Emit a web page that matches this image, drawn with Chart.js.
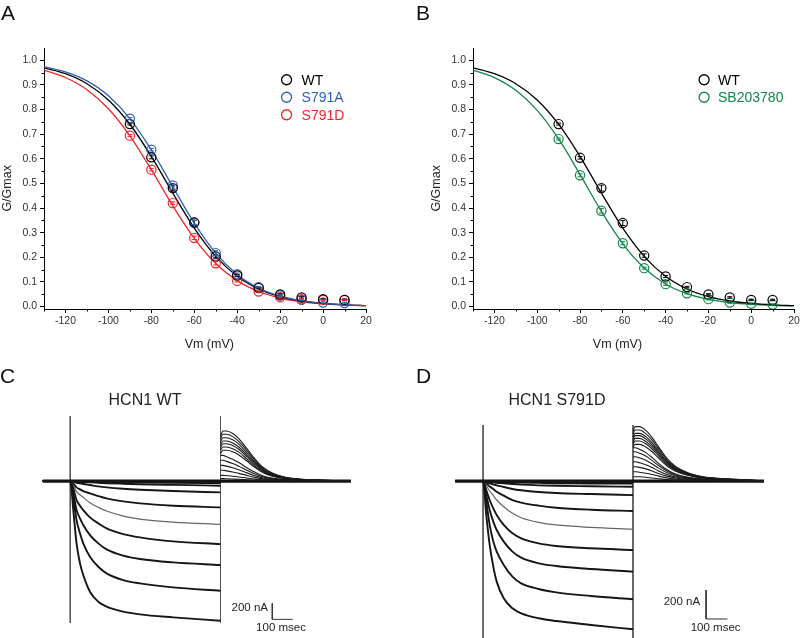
<!DOCTYPE html>
<html><head><meta charset="utf-8">
<script src="https://cdn.jsdelivr.net/npm/chart.js@4"></script>
<style>
html,body{margin:0;padding:0;background:#fff;}
#wrap{position:relative;width:800px;height:638px;overflow:hidden;font-family:'Liberation Sans',Arial,sans-serif;}
canvas{position:absolute;}
.lbl{position:absolute;font-size:21px;line-height:21px;color:#111;}
</style></head><body>
<div id="wrap">
<canvas id="cA" width="400" height="356" style="left:0;top:0"></canvas>
<canvas id="cB" width="400" height="356" style="left:400px;top:0"></canvas>
<canvas id="cC" width="400" height="258" style="left:0;top:380px"></canvas>
<canvas id="cD" width="400" height="258" style="left:400px;top:380px"></canvas>
<div class="lbl" style="left:1px;top:2px">A</div>
<div class="lbl" style="left:416px;top:2px">B</div>
<div class="lbl" style="left:0px;top:365px">C</div>
<div class="lbl" style="left:416px;top:365px">D</div>
</div>
<script>
// ---------- Panel A / B data ----------
const voltages = [-90,-80,-70,-60,-50,-40,-30,-20,-10,0,10];
const wtA    = [0.741,0.606,0.481,0.341,0.203,0.126,0.075,0.049,0.037,0.030,0.027];
const s791a  = [0.763,0.637,0.492,0.341,0.217,0.131,0.079,0.045,0.027,0.016,0.014];
const s791d  = [0.694,0.556,0.420,0.279,0.176,0.104,0.061,0.038,0.030,0.027,0.027];
const wtB    = [0.741,0.604,0.481,0.339,0.207,0.122,0.079,0.049,0.037,0.027,0.027];
const sb203780 = [0.680,0.533,0.389,0.257,0.156,0.091,0.054,0.030,0.016,0.011,0.008];
const wtAErr   = [0.004,0.006,0.012,0.010,0.006,0.004,0.003,0.003,0.003,0.003,0.003];
const s791aErr = [0.004,0.005,0.006,0.008,0.010,0.005,0.003,0.003,0.003,0.003,0.003];
const s791dErr = [0.004,0.005,0.005,0.007,0.007,0.004,0.003,0.003,0.003,0.003,0.003];
const wtBErr   = [0.004,0.005,0.012,0.010,0.007,0.004,0.003,0.003,0.003,0.003,0.003];
const sbErr    = [0.004,0.006,0.009,0.006,0.004,0.005,0.003,0.003,0.003,0.003,0.003];
// fitted Boltzmann curves
const fitV     = [-130,-120,-110,-100,-90,-80,-70,-60,-50,-40,-30,-20,-10,0,10,20];
const wtFit    = [0.9695,0.9455,0.9049,0.839,0.7404,0.6096,0.4609,0.3189,0.204,0.123,0.0713,0.0404,0.0225,0.0125,0.0069,0.0038];
const s791aFit = [0.9741,0.9531,0.9167,0.8563,0.7635,0.6360,0.4862,0.3388,0.2172,0.1306,0.0752,0.0422,0.0233,0.0127,0.0069,0.0038];
const s791dFit = [0.9602,0.9303,0.8808,0.8035,0.6935,0.5560,0.4093,0.2772,0.1750,0.1051,0.0610,0.0347,0.0195,0.0109,0.0061,0.0034];
const sbFit    = [0.9607,0.9299,0.8782,0.7967,0.6805,0.5365,0.3862,0.2548,0.1567,0.0917,0.0520,0.0290,0.0160,0.0087,0.0048,0.0026];
const xTicks = [-120,-100,-80,-60,-40,-20,0,20];
const xMinor = [-130,-110,-90,-70,-50,-30,-10,10];
const yTicks = [0,0.1,0.2,0.3,0.4,0.5,0.6,0.7,0.8,0.9,1.0];
const yMinor = [0.05,0.15,0.25,0.35,0.45,0.55,0.65,0.75,0.85,0.95];

// ---------- Panel C (HCN1 WT) traces : time ms, current nA ----------
const cStepT = [0,15,31,48,64,97,138,179,261,343,507,740];
const cTailT = [740,752,770,800,830,870,910,950,1000,1060,1130,1220,1382];
const cHoldT = [-135,1382];
const cSteps = [
 [0,-363,-779,-1029,-1175,-1383,-1508,-1571,-1633,-1667,-1704,-1746],
 [0,-217,-488,-654,-779,-946,-1071,-1154,-1238,-1279,-1329,-1371],
 [0,-154,-363,-467,-550,-675,-779,-854,-933,-975,-1017,-1050],
 [0,-92,-238,-308,-363,-454,-529,-592,-663,-704,-754,-788],
 [0,-50,-133,-171,-204,-271,-329,-375,-438,-475,-513,-542],
 [0,-29,-79,-104,-125,-154,-188,-217,-254,-279,-308,-329],
 [0,-8,-21,-29,-37,-50,-67,-79,-96,-108,-125,-142],
 [0,-3,-6,-9,-12,-17,-22,-27,-34,-40,-48,-58],
 [0,-1,-3,-4,-5,-7,-9,-11,-14,-17,-21,-25],
 [0,0,-1,-1,-2,-3,-4,-5,-6,-7,-9,-11],
 [0,0,0,0,0,-1,-1,-1,-2,-2,-3,-4],
 [0,0,0,0,0,0,0,0,-1,-1,-1,-1],
 [0,0,0,0,0,0,0,0,0,0,0,0]
];
const cTails = [
 [562,625,625,594,531,406,275,169,94,47,25,12,0],
 [526,584,584,555,496,380,257,158,88,44,23,12,0],
 [488,542,542,515,461,352,238,146,81,41,22,11,0],
 [450,500,500,475,425,325,220,135,75,38,20,10,0],
 [420,467,467,444,397,304,205,126,70,35,19,9,0],
 [383,425,425,404,361,276,187,115,64,32,17,9,0],
 [346,384,384,365,326,250,169,104,58,29,15,8,0],
 [321,321,305,273,231,167,109,64,35,18,10,5,0],
 [259,259,246,220,186,135,88,52,28,14,8,4,0],
 [196,196,186,167,141,102,67,39,22,11,6,3,0],
 [134,134,127,114,96,70,46,27,15,7,4,2,0],
 [71,71,67,60,51,37,24,14,8,4,2,1,0],
 [30,30,28,25,22,16,10,6,3,2,1,0,0]
];
// ---------- Panel D (HCN1 S791D) traces ----------
const dStepT = [0,15,31,48,64,97,138,179,261,343,507,704];
const dTailT = [704,714,734,764,794,824,864,904,964,1034,1124,1224,1319];
const dHoldT = [-131,1319];
const dSteps = [
 [0,-234,-441,-591,-694,-809,-878,-913,-947,-966,-993,-1023],
 [0,-143,-303,-418,-487,-579,-660,-706,-745,-768,-793,-816],
 [0,-97,-200,-280,-338,-418,-487,-529,-568,-586,-607,-625],
 [0,-62,-131,-189,-234,-303,-361,-395,-430,-448,-464,-476],
 [0,-32,-69,-101,-131,-177,-223,-253,-285,-303,-320,-333],
 [0,-16,-37,-55,-74,-101,-131,-149,-170,-184,-198,-207],
 [0,-7,-16,-23,-30,-41,-55,-64,-76,-83,-90,-97],
 [0,-3,-6,-9,-12,-16,-21,-25,-30,-33,-36,-40],
 [0,-1,-3,-4,-5,-7,-9,-11,-13,-15,-17,-18],
 [0,0,-1,-1,-2,-2,-3,-4,-5,-6,-7,-8],
 [0,0,0,0,-1,-1,-1,-2,-2,-2,-3,-3],
 [0,0,0,0,0,0,0,-1,-1,-1,-1,-1],
 [0,0,0,0,0,0,0,0,0,0,0,0],
 [0,0,0,0,0,0,0,0,0,0,0,0]
];
const dTails = [
 [345,375,375,349,300,236,154,101,56,30,17,9,0],
 [324,352,352,327,282,222,144,95,53,28,16,9,0],
 [303,329,329,306,263,207,135,89,49,26,15,8,0],
 [288,313,313,291,250,197,128,85,47,25,14,8,0],
 [270,294,294,273,235,185,121,79,44,24,13,7,0],
 [254,276,276,257,221,174,113,75,41,22,12,7,0],
 [233,253,253,235,202,159,104,68,38,20,11,6,0],
 [230,230,219,196,161,122,78,48,25,14,7,3,0],
 [202,202,192,172,141,107,69,42,22,12,6,3,0],
 [168,168,160,143,118,89,57,35,18,10,5,3,0],
 [133,133,126,113,93,70,45,28,15,8,4,2,0],
 [99,99,94,84,69,52,34,21,11,6,3,1,0],
 [64,64,61,54,45,34,22,13,7,4,2,1,0],
 [30,30,29,26,21,16,10,6,3,2,1,0,0]
];
// scale bars: top, corner, right end
const cScaleBarT = [995,995,1095];
const cScaleBarI = [-1529,-1729,-1729];
const dScaleBarT = [1047,1047,1147];
const dScaleBarI = [-752,-952,-952];
// capacitive transients (vertical lines) at step on/off
const cTransT = [0,740]; const cTransI = [812,-1775];
const dTransT = [0,704]; const dTransI = [386,-1083];

const FONT = "'Liberation Sans', Arial, sans-serif";
const BLUE = '#2f5fb8', RED = '#f0252a', GREEN = '#13874a', BLACK = '#000000';

// ---------- plugins ----------
const minorTicks = {
  id:'minorTicks',
  afterDraw(chart, args, o){
    if(!o || !o.x) return;
    const {ctx, chartArea:a, scales:{x,y}} = chart;
    ctx.save(); ctx.strokeStyle='#000'; ctx.lineWidth=1;
    ctx.beginPath();
    o.x.forEach(v=>{const px=Math.round(x.getPixelForValue(v))+0.5; ctx.moveTo(px,a.bottom); ctx.lineTo(px,a.bottom+2.5);});
    o.y.forEach(v=>{const py=Math.round(y.getPixelForValue(v))+0.5; ctx.moveTo(a.left,py); ctx.lineTo(a.left-2.5,py);});
    ctx.stroke(); ctx.restore();
  }
};
const errorBars = {
  id:'errorBars',
  afterDatasetsDraw(chart){
    const {ctx, scales:{y}} = chart;
    chart.data.datasets.forEach((ds,i)=>{
      if(!ds.errs) return;
      const meta = chart.getDatasetMeta(i);
      ctx.save(); ctx.strokeStyle = ds.borderColor; ctx.lineWidth = 1;
      meta.data.forEach((pt,j)=>{
        const v = ds.data[j].y, e = ds.errs[j];
        const t = y.getPixelForValue(v+e), b = y.getPixelForValue(v-e);
        ctx.beginPath();
        ctx.moveTo(pt.x,t); ctx.lineTo(pt.x,b);
        ctx.moveTo(pt.x-2.5,t); ctx.lineTo(pt.x+2.5,t);
        ctx.moveTo(pt.x-2.5,b); ctx.lineTo(pt.x+2.5,b);
        ctx.stroke();
      });
      ctx.restore();
    });
  }
};
const gvLegend = {
  id:'gvLegend',
  afterDraw(chart, args, o){
    if(!o || !o.items) return;
    const {ctx, scales:{x,y}} = chart;
    const cx = x.getPixelForValue(o.x), tx = x.getPixelForValue(o.textX);
    ctx.save();
    ctx.font = '14px ' + FONT; ctx.textBaseline='middle'; ctx.textAlign='left';
    o.items.forEach((it,k)=>{
      const cy = y.getPixelForValue(o.y) + k*o.dy;
      ctx.strokeStyle = it.color; ctx.lineWidth = 1.3;
      ctx.beginPath(); ctx.arc(cx, cy, 5, 0, Math.PI*2); ctx.stroke();
      ctx.fillStyle = it.color; ctx.fillText(it.text, tx, cy+1);
    });
    ctx.restore();
  }
};
const dataText = {
  id:'dataText',
  afterDraw(chart, args, o){
    if(!o || !o.items) return;
    const {ctx, scales:{x,y}} = chart;
    ctx.save();
    o.items.forEach(it=>{
      ctx.font = it.size + 'px ' + FONT;
      ctx.fillStyle = it.color || '#222';
      ctx.textAlign = it.align || 'center';
      ctx.textBaseline = 'middle';
      ctx.fillText(it.text, x.getPixelForValue(it.x), y.getPixelForValue(it.y));
    });
    ctx.restore();
  }
};
const axisTitles = {
  id:'axisTitles',
  afterDraw(chart, args, o){
    if(!o || !o.xText) return;
    const {ctx, chartArea:a, scales:{x,y}} = chart;
    ctx.save(); ctx.fillStyle='#222'; ctx.textAlign='center'; ctx.textBaseline='middle';
    ctx.font = o.size + 'px ' + FONT;
    ctx.fillText(o.xText, x.getPixelForValue(o.xAt), a.bottom + o.xOff);
    ctx.translate(a.left - o.yOff, y.getPixelForValue(o.yAt));
    ctx.rotate(-Math.PI/2);
    ctx.fillText(o.yText, 0, 0);
    ctx.restore();
  }
};
Chart.register(minorTicks, errorBars, gvLegend, dataText, axisTitles);

function pts(xs, ys){ return xs.map((v,i)=>({x:v, y:ys[i]})); }
function fitDs(ys, color){
  return {data:pts(fitV, ys), showLine:true, borderColor:color, borderWidth:1.3, pointRadius:0,
          cubicInterpolationMode:'monotone', fill:false, order:2};
}
function markDs(ys, errs, color){
  return {data:pts(voltages, ys), errs, showLine:false, borderColor:color, pointBorderColor:color,
          pointBackgroundColor:'rgba(0,0,0,0)', pointRadius:4.6, pointBorderWidth:1.2, order:1};
}
function gvChart(id, datasets, cfg){
  return new Chart(document.getElementById(id), {
    type:'scatter',
    data:{datasets},
    options:{
      responsive:false, animation:false, devicePixelRatio:1,
      layout:{padding:{left:cfg.padL, right:cfg.padR, top:48, bottom:0}},
      plugins:{legend:{display:false}, tooltip:{enabled:false},
        minorTicks:{x:xMinor, y:yMinor},
        gvLegend:cfg.legend,
        axisTitles:{xText:'Vm (mV)', xAt:cfg.xTitleAt, xOff:36, yText:'G/Gmax', yAt:0.48, yOff:cfg.yOff, size:12.5}
      },
      scales:{
        x:{type:'linear', min:-130, max:20,
          afterBuildTicks:s=>{s.ticks = xTicks.map(v=>({value:v}));},
          afterFit:s=>{s.height=47; s.paddingLeft=0; s.paddingRight=0;},
          grid:{drawOnChartArea:false, drawTicks:true, tickLength:4, color:'#000', tickColor:'#000'},
          border:{display:true, color:'#000', width:1},
          ticks:{font:{size:10.5, family:FONT}, color:'#333', padding:2, maxRotation:0, autoSkip:false, callback:v=>String(v)}
        },
        y:{type:'linear', min:-0.01, max:1.05,
          afterBuildTicks:s=>{s.ticks = yTicks.map(v=>({value:v}));},
          afterFit:s=>{s.width=cfg.yW; s.paddingTop=0; s.paddingBottom=0;},
          grid:{drawOnChartArea:false, drawTicks:true, tickLength:4, color:'#000', tickColor:'#000'},
          border:{display:true, color:'#000', width:1},
          ticks:{font:{size:10.5, family:FONT}, color:'#333', padding:3, autoSkip:false, callback:v=>v.toFixed(1)}
        }
      }
    }
  });
}

gvChart('cA', [
  fitDs(s791aFit, BLUE), fitDs(wtFit, BLACK), fitDs(s791dFit, RED),
  markDs(wtA, wtAErr, BLACK), markDs(s791d, s791dErr, RED), markDs(s791a, s791aErr, BLUE)
], {padL:0, padR:34, yW:44, xTitleAt:-53, yOff:36,
    legend:{x:-17, textX:-10, y:0.921, dy:17.5, items:[{text:'WT',color:BLACK},{text:'S791A',color:BLUE},{text:'S791D',color:RED}]}});

gvChart('cB', [
  fitDs(wtFit, BLACK), fitDs(sbFit, GREEN),
  markDs(wtB, wtBErr, BLACK), markDs(sb203780, sbErr, GREEN)
], {padL:28, padR:6, yW:45, xTitleAt:-62.5, yOff:36,
    legend:{x:-22, textX:-15.5, y:0.921, dy:17.5, items:[{text:'WT',color:BLACK},{text:'SB203780',color:GREEN}]}});

// ---------- trace charts ----------
function traceChart(id, o){
  const ds = [];
  ds.push({data:pts(o.holdT,[0,0]), showLine:true, borderColor:'#111', borderWidth:3.2, pointRadius:0, order:5});
  o.transT.forEach(t=>{
    ds.push({data:pts([t,t], o.transI), showLine:true, borderColor:'#555', borderWidth:1, pointRadius:0, order:6});
  });
  o.steps.forEach((s,k)=>{
    const gray = (k===4);
    ds.push({data:[{x:o.holdT[0],y:0}].concat(pts(o.stepT, s)), showLine:true,
      borderColor: gray ? '#666' : '#151515', borderWidth: gray ? 1.2 : 1.9, pointRadius:0,
      cubicInterpolationMode:'monotone', order:3});
  });
  o.tails.forEach(tl=>{
    ds.push({data:pts(o.tailT, tl), showLine:true, borderColor:'#1a1a1a', borderWidth:1.1, pointRadius:0,
      cubicInterpolationMode:'monotone', order:4});
  });
  ds.push({data:pts(o.barT, o.barI), showLine:true, borderColor:'#333', borderWidth:1, pointRadius:0, order:1});
  return new Chart(document.getElementById(id), {
    type:'scatter', data:{datasets:ds},
    options:{responsive:false, animation:false, devicePixelRatio:1,
      layout:{padding:0},
      plugins:{legend:{display:false}, tooltip:{enabled:false}, dataText:{items:o.texts}},
      scales:{x:{type:'linear', display:false, min:o.xMin, max:o.xMax},
              y:{type:'linear', display:false, min:o.yMin, max:o.yMax}}
    }
  });
}
traceChart('cC', {stepT:cStepT, tailT:cTailT, holdT:cHoldT, steps:cSteps, tails:cTails,
  transT:cTransT, transI:cTransI, barT:cScaleBarT, barI:cScaleBarI,
  xMin:-346, xMax:1624, yMin:-1962, yMax:1263,
  texts:[{text:'HCN1 WT', x:368, y:1000, size:16},
         {text:'200 nA', x:974, y:-1588, size:11.5, align:'right'},
         {text:'100 msec', x:1038, y:-1833, size:11.5}]});
traceChart('cD', {stepT:dStepT, tailT:dTailT, holdT:dHoldT, steps:dSteps, tails:dTails,
  transT:dTransT, transI:dTransI, barT:dScaleBarT, barI:dScaleBarI,
  xMin:-390, xMax:1488, yMin:-1083, yMax:697,
  texts:[{text:'HCN1 S791D', x:347, y:552, size:16},
         {text:'200 nA', x:1019, y:-832, size:11.5, align:'right'},
         {text:'100 msec', x:1092, y:-1016, size:11.5}]});
</script>
</body></html>
